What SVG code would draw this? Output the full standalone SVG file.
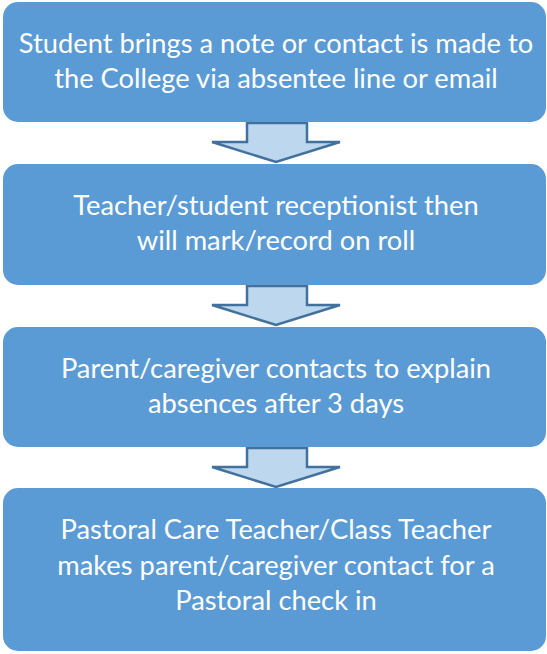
<svg xmlns="http://www.w3.org/2000/svg" width="547" height="654" viewBox="0 0 547 654">
<style>
.box{fill:#5B9BD5;}
.t{font-family:Lato,"Open Sans",sans-serif;font-size:27.3px;fill:#FFFFFF;text-anchor:middle;}
.arr{fill:#BDD7EE;stroke:#41719C;stroke-width:2.5;stroke-linejoin:miter;}
</style>
<rect width="547" height="654" fill="#FFFFFF"/>
<g id="connectors">
<path class="arr" d="M247,123 H307 V142 H340 L276,162 L212,142 H247 Z"/>
<path class="arr" d="M247,286 H307 V305 H340 L276,325 L212,305 H247 Z"/>
<path class="arr" d="M247,448 H307 V467 H340 L276,487 L212,467 H247 Z"/>
</g>
<g id="node1">
<rect class="box" x="3" y="2" width="543" height="120" rx="15"/>
<text class="t" x="276" y="53">Student brings a note or contact is made to</text>
<text class="t" x="276" y="88">the College via absentee line or email</text>
</g>
<g id="node2">
<rect class="box" x="3" y="164" width="543" height="121" rx="15"/>
<text class="t" x="276" y="215">Teacher/student receptionist then</text>
<text class="t" x="276" y="250">will mark/record on roll</text>
</g>
<g id="node3">
<rect class="box" x="3" y="327" width="543" height="120" rx="15"/>
<text class="t" x="276" y="378">Parent/caregiver contacts to explain</text>
<text class="t" x="276" y="413">absences after 3 days</text>
</g>
<g id="node4">
<rect class="box" x="3" y="488" width="543" height="163" rx="15"/>
<text class="t" x="276" y="539">Pastoral Care Teacher/Class Teacher</text>
<text class="t" x="276" y="575">makes parent/caregiver contact for a</text>
<text class="t" x="276" y="610">Pastoral check in</text>
</g>
</svg>
